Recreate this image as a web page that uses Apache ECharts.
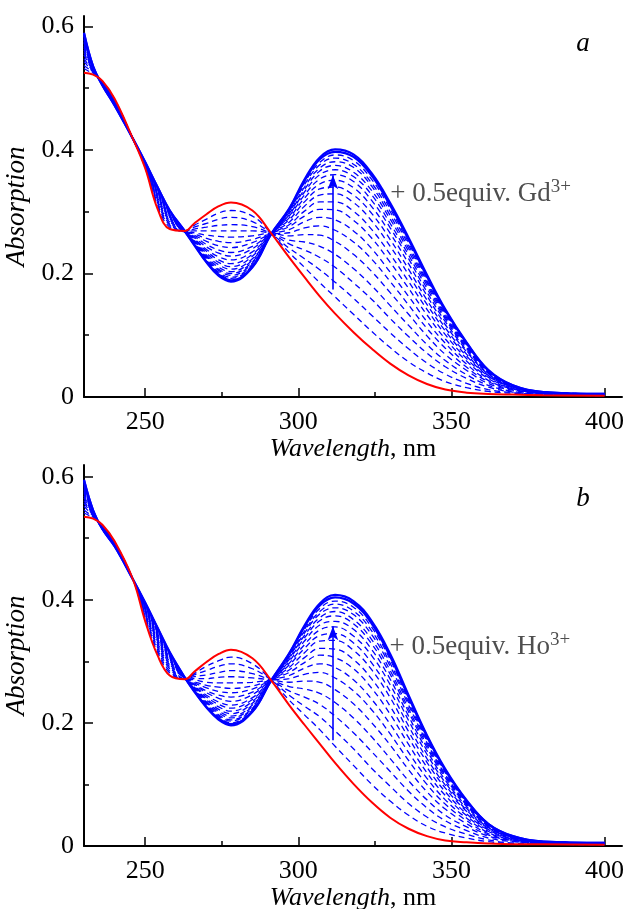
<!DOCTYPE html>
<html><head><meta charset="utf-8">
<script src="https://cdn.jsdelivr.net/npm/echarts@6/dist/echarts.min.js"></script>
<style>html,body{margin:0;padding:0;background:#fff}#chart{width:625px;height:909px}</style>
</head><body><div id="chart"></div>
<script>
// ---------------- DATA ----------------
const wavelengths = [230,233,236,240,246,250,254,258,263,266,270,274,278,285,291,297,302,307,312,318,324,330,336,342,348,355,362,370,380,400];

// panel a: initial spectrum (red) and titration steps (blue), rows = wavelengths, columns = steps (last = final)
const gdRed = [0.525,0.522,0.512,0.483,0.418,0.370,0.305,0.272,0.269,0.281,0.296,0.309,0.315,0.302,0.266,0.226,0.194,0.163,0.135,0.105,0.078,0.054,0.035,0.021,0.012,0.007,0.005,0.004,0.003,0.002];
const gdTitration = [
[0.532,0.537,0.543,0.548,0.554,0.558,0.562,0.566,0.569,0.573,0.575,0.578,0.580,0.582,0.584,0.585,0.586,0.588,0.589,0.590],
[0.523,0.525,0.526,0.527,0.528,0.529,0.529,0.530,0.531,0.532,0.532,0.533,0.533,0.533,0.534,0.534,0.534,0.535,0.535,0.535],
[0.511,0.511,0.510,0.509,0.509,0.508,0.508,0.508,0.507,0.507,0.507,0.506,0.506,0.506,0.506,0.506,0.505,0.505,0.505,0.505],
[0.482,0.481,0.480,0.479,0.478,0.477,0.477,0.476,0.476,0.475,0.475,0.474,0.474,0.473,0.473,0.473,0.473,0.472,0.472,0.472],
[0.418,0.418,0.418,0.418,0.418,0.418,0.418,0.418,0.418,0.418,0.418,0.418,0.418,0.418,0.418,0.418,0.418,0.418,0.418,0.418],
[0.371,0.372,0.373,0.374,0.374,0.375,0.376,0.376,0.377,0.377,0.378,0.378,0.378,0.379,0.379,0.379,0.379,0.380,0.380,0.380],
[0.309,0.312,0.315,0.318,0.320,0.323,0.325,0.327,0.329,0.331,0.332,0.333,0.335,0.336,0.337,0.337,0.338,0.339,0.340,0.340],
[0.275,0.278,0.280,0.283,0.285,0.287,0.289,0.291,0.292,0.294,0.295,0.296,0.297,0.298,0.299,0.300,0.300,0.301,0.302,0.302],
[0.269,0.268,0.268,0.268,0.268,0.268,0.268,0.268,0.268,0.268,0.268,0.268,0.268,0.268,0.268,0.268,0.268,0.268,0.268,0.268],
[0.278,0.275,0.272,0.269,0.266,0.264,0.262,0.260,0.258,0.256,0.255,0.253,0.252,0.251,0.250,0.249,0.248,0.247,0.247,0.246],
[0.288,0.281,0.275,0.269,0.262,0.257,0.252,0.247,0.243,0.239,0.236,0.233,0.230,0.228,0.226,0.224,0.222,0.221,0.219,0.218],
[0.298,0.288,0.278,0.269,0.260,0.252,0.245,0.238,0.233,0.227,0.222,0.218,0.214,0.210,0.207,0.205,0.202,0.200,0.198,0.196],
[0.302,0.291,0.279,0.269,0.259,0.250,0.242,0.234,0.228,0.222,0.216,0.211,0.207,0.203,0.200,0.197,0.194,0.192,0.189,0.187],
[0.293,0.284,0.276,0.269,0.261,0.255,0.250,0.244,0.240,0.235,0.231,0.228,0.224,0.222,0.219,0.217,0.215,0.213,0.211,0.210],
[0.266,0.265,0.265,0.265,0.265,0.264,0.264,0.264,0.264,0.264,0.264,0.264,0.263,0.263,0.263,0.263,0.263,0.263,0.263,0.263],
[0.234,0.241,0.248,0.254,0.261,0.266,0.271,0.276,0.279,0.283,0.287,0.290,0.293,0.295,0.297,0.299,0.301,0.302,0.304,0.305],
[0.210,0.224,0.238,0.251,0.263,0.274,0.284,0.293,0.301,0.309,0.316,0.322,0.327,0.332,0.336,0.340,0.344,0.347,0.350,0.352],
[0.185,0.206,0.226,0.244,0.262,0.277,0.291,0.304,0.316,0.327,0.337,0.345,0.353,0.360,0.366,0.371,0.376,0.380,0.385,0.388],
[0.162,0.186,0.210,0.231,0.252,0.270,0.287,0.303,0.316,0.329,0.340,0.351,0.360,0.368,0.375,0.381,0.387,0.392,0.397,0.401],
[0.134,0.160,0.185,0.208,0.231,0.251,0.269,0.286,0.301,0.315,0.327,0.339,0.349,0.357,0.364,0.372,0.377,0.383,0.389,0.393],
[0.106,0.132,0.158,0.180,0.203,0.223,0.240,0.257,0.271,0.285,0.297,0.308,0.318,0.327,0.334,0.341,0.346,0.352,0.358,0.362],
[0.080,0.104,0.127,0.148,0.169,0.187,0.202,0.218,0.231,0.244,0.255,0.265,0.274,0.281,0.288,0.294,0.300,0.305,0.310,0.314],
[0.057,0.078,0.098,0.116,0.134,0.149,0.163,0.176,0.187,0.198,0.207,0.216,0.224,0.230,0.236,0.241,0.246,0.250,0.255,0.258],
[0.039,0.055,0.071,0.085,0.099,0.111,0.122,0.133,0.142,0.150,0.157,0.164,0.170,0.176,0.181,0.185,0.188,0.192,0.195,0.198],
[0.025,0.037,0.049,0.059,0.069,0.079,0.087,0.094,0.101,0.107,0.112,0.117,0.122,0.126,0.129,0.132,0.135,0.137,0.140,0.142],
[0.015,0.022,0.030,0.036,0.043,0.048,0.053,0.058,0.062,0.066,0.069,0.073,0.075,0.078,0.080,0.082,0.084,0.085,0.087,0.088],
[0.009,0.012,0.016,0.019,0.022,0.025,0.027,0.030,0.032,0.034,0.035,0.037,0.038,0.039,0.040,0.041,0.042,0.043,0.043,0.044],
[0.006,0.007,0.008,0.009,0.011,0.012,0.013,0.013,0.014,0.015,0.016,0.016,0.017,0.017,0.018,0.018,0.018,0.018,0.019,0.019],
[0.004,0.004,0.004,0.005,0.005,0.006,0.006,0.006,0.006,0.007,0.007,0.007,0.007,0.007,0.008,0.008,0.008,0.008,0.008,0.008],
[0.002,0.003,0.003,0.003,0.003,0.004,0.004,0.004,0.004,0.004,0.004,0.004,0.005,0.005,0.005,0.005,0.005,0.005,0.005,0.005]
];

// panel b
const hoRed = [0.535,0.532,0.522,0.495,0.433,0.365,0.310,0.277,0.271,0.283,0.299,0.312,0.319,0.305,0.270,0.229,0.197,0.166,0.135,0.101,0.071,0.046,0.028,0.016,0.009,0.006,0.004,0.003,0.003,0.002];
const hoTitration = [
[0.541,0.546,0.552,0.557,0.561,0.566,0.569,0.573,0.576,0.579,0.581,0.584,0.586,0.588,0.589,0.591,0.592,0.593,0.594,0.595],
[0.533,0.534,0.536,0.537,0.538,0.539,0.539,0.540,0.541,0.541,0.542,0.543,0.543,0.543,0.544,0.544,0.544,0.545,0.545,0.545],
[0.521,0.521,0.520,0.519,0.519,0.518,0.518,0.518,0.517,0.517,0.517,0.516,0.516,0.516,0.516,0.516,0.515,0.515,0.515,0.515],
[0.494,0.493,0.493,0.492,0.491,0.491,0.490,0.490,0.490,0.489,0.489,0.489,0.488,0.488,0.488,0.488,0.487,0.487,0.487,0.487],
[0.433,0.433,0.433,0.433,0.433,0.433,0.433,0.433,0.433,0.433,0.433,0.433,0.433,0.433,0.433,0.433,0.433,0.433,0.433,0.433],
[0.368,0.371,0.373,0.376,0.378,0.380,0.382,0.384,0.385,0.387,0.388,0.389,0.390,0.391,0.392,0.393,0.393,0.394,0.395,0.395],
[0.315,0.319,0.323,0.326,0.330,0.333,0.336,0.338,0.341,0.343,0.345,0.347,0.348,0.349,0.351,0.352,0.353,0.353,0.354,0.355],
[0.281,0.284,0.288,0.291,0.294,0.296,0.299,0.301,0.303,0.305,0.306,0.308,0.309,0.310,0.311,0.312,0.313,0.314,0.314,0.315],
[0.271,0.271,0.271,0.271,0.271,0.272,0.272,0.272,0.272,0.272,0.272,0.272,0.273,0.273,0.273,0.273,0.273,0.273,0.273,0.273],
[0.280,0.278,0.275,0.272,0.270,0.267,0.265,0.263,0.262,0.260,0.259,0.258,0.256,0.255,0.254,0.254,0.253,0.252,0.252,0.251],
[0.292,0.285,0.278,0.272,0.266,0.261,0.257,0.252,0.249,0.245,0.242,0.239,0.237,0.234,0.233,0.231,0.229,0.228,0.226,0.225],
[0.301,0.292,0.282,0.274,0.265,0.258,0.251,0.245,0.240,0.234,0.230,0.226,0.222,0.219,0.216,0.213,0.211,0.209,0.207,0.205],
[0.307,0.296,0.285,0.275,0.265,0.256,0.249,0.242,0.235,0.229,0.224,0.219,0.215,0.211,0.208,0.205,0.203,0.200,0.198,0.196],
[0.296,0.288,0.280,0.273,0.266,0.260,0.255,0.250,0.246,0.241,0.238,0.235,0.232,0.229,0.227,0.224,0.223,0.221,0.219,0.218],
[0.270,0.270,0.269,0.269,0.269,0.269,0.269,0.269,0.269,0.269,0.268,0.268,0.268,0.268,0.268,0.268,0.268,0.268,0.268,0.268],
[0.237,0.245,0.252,0.259,0.266,0.272,0.277,0.282,0.286,0.290,0.294,0.297,0.300,0.303,0.305,0.307,0.308,0.310,0.312,0.313],
[0.213,0.227,0.242,0.255,0.268,0.279,0.289,0.298,0.306,0.314,0.321,0.327,0.333,0.338,0.342,0.346,0.349,0.352,0.356,0.358],
[0.189,0.210,0.230,0.248,0.266,0.282,0.296,0.310,0.321,0.333,0.342,0.351,0.359,0.366,0.371,0.377,0.381,0.386,0.391,0.394],
[0.162,0.187,0.211,0.233,0.254,0.273,0.290,0.306,0.320,0.334,0.345,0.356,0.365,0.374,0.381,0.387,0.393,0.398,0.404,0.408],
[0.131,0.158,0.184,0.208,0.231,0.252,0.270,0.288,0.303,0.318,0.330,0.341,0.352,0.361,0.368,0.376,0.382,0.388,0.394,0.398],
[0.100,0.126,0.153,0.177,0.200,0.221,0.238,0.256,0.271,0.286,0.297,0.309,0.319,0.328,0.335,0.343,0.349,0.355,0.361,0.365],
[0.073,0.097,0.121,0.142,0.164,0.182,0.198,0.214,0.227,0.241,0.251,0.262,0.271,0.279,0.285,0.292,0.297,0.303,0.308,0.312],
[0.050,0.069,0.089,0.106,0.124,0.139,0.152,0.165,0.176,0.186,0.195,0.204,0.211,0.218,0.223,0.229,0.233,0.237,0.242,0.245],
[0.032,0.047,0.062,0.075,0.088,0.100,0.110,0.119,0.128,0.136,0.142,0.149,0.155,0.160,0.164,0.168,0.171,0.174,0.178,0.180],
[0.021,0.031,0.041,0.050,0.060,0.068,0.075,0.082,0.088,0.094,0.099,0.103,0.107,0.111,0.114,0.116,0.119,0.121,0.123,0.125],
[0.013,0.019,0.025,0.031,0.036,0.041,0.045,0.049,0.052,0.056,0.058,0.061,0.064,0.066,0.067,0.069,0.070,0.072,0.073,0.074],
[0.007,0.010,0.013,0.016,0.018,0.020,0.022,0.024,0.026,0.027,0.029,0.030,0.031,0.032,0.033,0.034,0.034,0.035,0.036,0.036],
[0.004,0.005,0.007,0.008,0.009,0.010,0.010,0.011,0.012,0.012,0.013,0.014,0.014,0.014,0.015,0.015,0.015,0.016,0.016,0.016],
[0.003,0.004,0.004,0.004,0.005,0.005,0.005,0.006,0.006,0.006,0.006,0.006,0.006,0.007,0.007,0.007,0.007,0.007,0.007,0.007],
[0.002,0.003,0.003,0.003,0.003,0.004,0.004,0.004,0.004,0.004,0.004,0.004,0.005,0.005,0.005,0.005,0.005,0.005,0.005,0.005]
];

const xTickValues = [250, 300, 350, 400];
const xMinorTickValues = [275, 325, 375];
const yTickValues = [0, 0.2, 0.4, 0.6];
const yMinorTickValues = [0.1, 0.3, 0.5];

// ---------------- LAYOUT / STYLE ----------------
const FONT = '"Liberation Serif", "Times New Roman", serif';
const BLUE = '#0000ff', RED = '#ff0000';
const X_MIN = 230, X_MAX = 405.7;
const panels = [
  { red: gdRed, rows: gdTitration, ion: 'Gd', letter: 'a', top: 16, yMax: 0.617, nameGap: 39,
    arrow: { x: 311.3, from: 0.174, to: 0.359 }, text: { x: 330, y: 0.331 }, letterPos: [583, 44] },
  { red: hoRed, rows: hoTitration, ion: 'Ho', letter: 'b', top: 465, yMax: 0.619, nameGap: 35,
    arrow: { x: 311.3, from: 0.172, to: 0.357 }, text: { x: 329.8, y: 0.326 }, letterPos: [583, 499] }
];

const grids = [], xAxes = [], yAxes = [], series = [], graphics = [];
const axisLineStyle = { color: '#000', width: 2 };
const tickStyle = { color: '#000', width: 1.5 };

panels.forEach((p, g) => {
  grids.push({ left: 84, top: p.top, width: 538, height: 381, containLabel: false, outerBoundsMode: 'none' });
  const xi = xAxes.length, yi = yAxes.length;
  xAxes.push({
    type: 'value', gridIndex: g, min: X_MIN, max: X_MAX, position: 'bottom',
    axisLine: { show: true, onZero: false, lineStyle: axisLineStyle },
    axisTick: { show: true, inside: true, length: 9, customValues: xTickValues, lineStyle: tickStyle },
    axisLabel: { show: true, customValues: xTickValues, margin: 12, color: '#000', fontFamily: FONT, fontSize: 26 },
    splitLine: { show: false },
    name: '{i|Wavelength}, nm', nameLocation: 'middle', nameGap: p.nameGap,
    nameTextStyle: { color: '#000', fontFamily: FONT, fontSize: 26,
      rich: { i: { fontStyle: 'italic', fontFamily: FONT, fontSize: 26, color: '#000' } } }
  });
  xAxes.push({
    type: 'value', gridIndex: g, min: X_MIN, max: X_MAX, position: 'bottom',
    axisLine: { show: false }, axisLabel: { show: false }, splitLine: { show: false },
    axisTick: { show: true, inside: true, length: 5, customValues: xMinorTickValues, lineStyle: tickStyle }
  });
  yAxes.push({
    type: 'value', gridIndex: g, min: 0, max: p.yMax, position: 'left',
    axisLine: { show: true, onZero: false, lineStyle: axisLineStyle },
    axisTick: { show: true, inside: true, length: 9, customValues: yTickValues, lineStyle: tickStyle },
    axisLabel: { show: true, customValues: yTickValues, margin: 10, color: '#000', fontFamily: FONT, fontSize: 26,
      formatter: v => (v === 0 ? '0' : v.toFixed(1)) },
    splitLine: { show: false },
    name: 'Absorption', nameLocation: 'middle', nameGap: 42,
    nameTextStyle: { color: '#000', fontFamily: FONT, fontSize: 27, fontStyle: 'italic' }
  });
  yAxes.push({
    type: 'value', gridIndex: g, min: 0, max: p.yMax, position: 'left',
    axisLine: { show: false }, axisLabel: { show: false }, splitLine: { show: false },
    axisTick: { show: true, inside: true, length: 5, customValues: yMinorTickValues, lineStyle: tickStyle }
  });

  const nSteps = p.rows[0].length;
  for (let k = 0; k < nSteps; k++) {
    const near = k >= nSteps - 2;
    series.push({
      type: 'line', xAxisIndex: xi, yAxisIndex: yi, silent: true, z: 2,
      data: wavelengths.map((w, i) => [w, p.rows[i][k]]),
      smooth: 0.4, symbol: 'none',
      lineStyle: { color: BLUE, width: near ? 2.2 : 1.3, type: near ? 'solid' : [6, 4] }
    });
  }
  series.push({
    type: 'line', xAxisIndex: xi, yAxisIndex: yi, silent: true, z: 3,
    data: wavelengths.map((w, i) => [w, p.red[i]]),
    smooth: 0.4, symbol: 'none', lineStyle: { color: RED, width: 2 }
  });
  // arrow
  series.push({
    type: 'line', xAxisIndex: xi, yAxisIndex: yi, silent: true, z: 4, data: [],
    markLine: {
      silent: true, symbol: ['none', 'arrow'], symbolSize: [8, 14], animation: false,
      label: { show: false },
      lineStyle: { color: BLUE, width: 1.6, type: 'solid' },
      data: [[{ coord: [p.arrow.x, p.arrow.from] }, { coord: [p.arrow.x, p.arrow.to] }]]
    }
  });
  // annotation text
  series.push({
    type: 'scatter', xAxisIndex: xi, yAxisIndex: yi, silent: true, z: 5,
    symbolSize: 0, data: [[p.text.x, p.text.y]],
    label: {
      show: true, position: 'right', distance: 0,
      formatter: '{t|+ 0.5equiv. ' + p.ion + '}{s|3+}',
      rich: {
        t: { fontFamily: FONT, fontSize: 27, color: '#222', lineHeight: 30, verticalAlign: 'bottom' },
        s: { fontFamily: FONT, fontSize: 19, color: '#222', lineHeight: 19, verticalAlign: 'top' }
      }
    }
  });
  graphics.push({
    type: 'text', x: p.letterPos[0], y: p.letterPos[1], silent: true,
    style: { text: p.letter, font: 'italic 27px ' + FONT, fill: '#000', align: 'center', verticalAlign: 'middle' }
  });
});

const chart = echarts.init(document.getElementById('chart'), null, { renderer: 'canvas' });
chart.setOption({
  animation: false,
  backgroundColor: '#fff',
  grid: grids, xAxis: xAxes, yAxis: yAxes, series: series, graphic: graphics
});
</script></body></html>
